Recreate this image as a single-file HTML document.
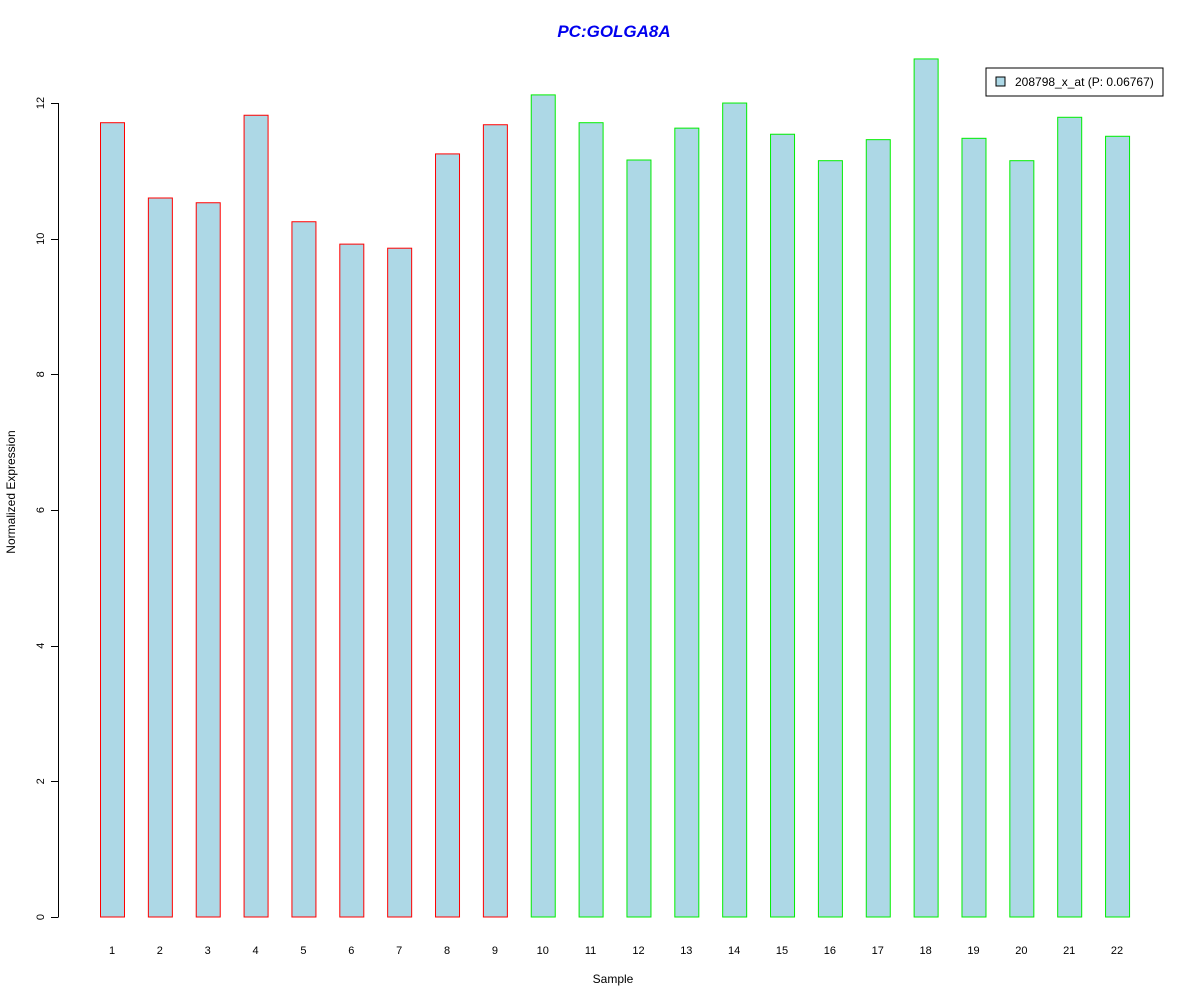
<!DOCTYPE html>
<html><head><meta charset="utf-8"><style>body{margin:0;background:#fff}svg{display:block;font-family:"Liberation Sans",Arial,sans-serif}</style></head>
<body>
<svg id="chart" width="1200" height="1000">
<text x="614" y="37" text-anchor="middle" font-size="17" font-weight="bold" font-style="italic" fill="#0000ee">PC:GOLGA8A</text>
<text x="613" y="983" text-anchor="middle" font-size="12">Sample</text>
<text transform="translate(15,492) rotate(-90)" text-anchor="middle" font-size="12">Normalized Expression</text>
<g id="bars"></g><g id="yaxis"></g><g id="xlabels"></g>
<g>
<rect x="986" y="68" width="177" height="28" fill="#fff" stroke="#000"/>
<rect x="996" y="77" width="9" height="9" fill="#add8e6" stroke="#000"/>
<text x="1015" y="86" font-size="12">208798_x_at (P: 0.06767)</text>
</g>
</svg>
<script>
const categories=["1","2","3","4","5","6","7","8","9","10","11","12","13","14","15","16","17","18","19","20","21","22"];
const values=[11.71,10.60,10.53,11.82,10.25,9.92,9.86,11.25,11.68,12.12,11.71,11.16,11.63,12.0,11.54,11.15,11.46,12.65,11.48,11.15,11.79,11.51];
const groups=["red","red","red","red","red","red","red","red","red","#00ee00","#00ee00","#00ee00","#00ee00","#00ee00","#00ee00","#00ee00","#00ee00","#00ee00","#00ee00","#00ee00","#00ee00","#00ee00"];
const yTicks=[0,2,4,6,8,10,12];
const NS="http://www.w3.org/2000/svg";
function y(v){return 917-v*67.83;}
function x(i){return 100+i*47.86;}
const bars=document.getElementById('bars'),xl=document.getElementById('xlabels'),ya=document.getElementById('yaxis');
values.forEach((v,i)=>{
 const r=document.createElementNS(NS,'rect');
 r.setAttribute('x',x(i)+0.5);r.setAttribute('y',y(v));r.setAttribute('width',24);r.setAttribute('height',917-y(v));
 r.setAttribute('fill','#add8e6');r.setAttribute('stroke',groups[i]);
 
 
 bars.appendChild(r);
 const t=document.createElementNS(NS,'text');
 t.setAttribute('x',x(i)+12);t.setAttribute('y',954);t.setAttribute('text-anchor','middle');t.setAttribute('font-size','11');
 t.textContent=categories[i];
 
 
 xl.appendChild(t);
});
const ax=document.createElementNS(NS,'line');
ax.setAttribute('x1',58.5);ax.setAttribute('x2',58.5);ax.setAttribute('y1',y(0));ax.setAttribute('y2',y(12));ax.setAttribute('stroke','#000');


ya.appendChild(ax);
yTicks.forEach(v=>{
 const l=document.createElementNS(NS,'line');
 l.setAttribute('x1',51);l.setAttribute('x2',58.5);l.setAttribute('y1',Math.round(y(v))+0.5);l.setAttribute('y2',Math.round(y(v))+0.5);l.setAttribute('stroke','#000');
 
 
 ya.appendChild(l);
 const t=document.createElementNS(NS,'text');
 t.setAttribute('transform','translate(44,'+y(v)+') rotate(-90)');t.setAttribute('text-anchor','middle');t.setAttribute('font-size','11');
 t.textContent=v;
 
 
 ya.appendChild(t);
});
</script>
</body></html>
